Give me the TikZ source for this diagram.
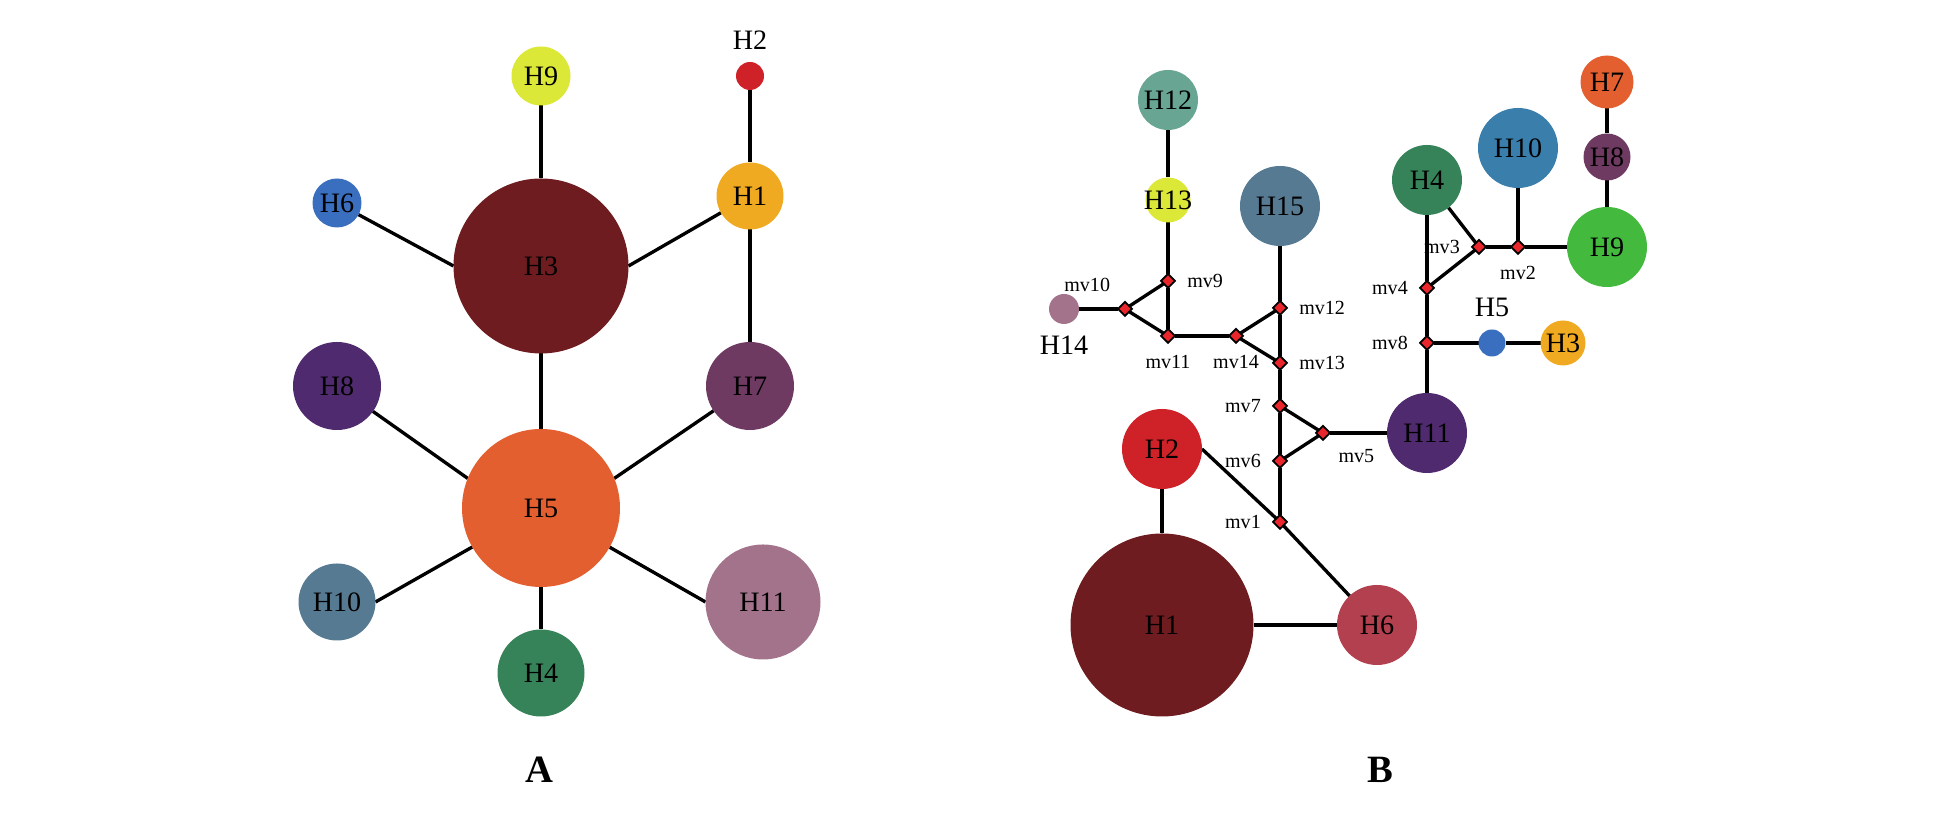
\documentclass[tikz,border=0pt]{standalone}
\usepackage{xcolor}
\usepackage{fontspec}
\setmainfont{Liberation Serif}
\usepackage{tikz}
\usepackage{tikz-network}
\usetikzlibrary{positioning,shapes.geometric}

\definecolor{hapyellow}{HTML}{DCE837}
\definecolor{hapred}{HTML}{CF2228}
\definecolor{mvred}{HTML}{E8262C}
\definecolor{hapblue}{HTML}{3A6FBF}
\definecolor{hapmaroon}{HTML}{6E1C20}
\definecolor{hapgold}{HTML}{F0AA22}
\definecolor{hapviolet}{HTML}{4F2A6E}
\definecolor{happlum}{HTML}{6E3A62}
\definecolor{haporange}{HTML}{E35F30}
\definecolor{hapslate}{HTML}{577A93}
\definecolor{hapgreen}{HTML}{368359}
\definecolor{hapmauve}{HTML}{A3738C}
\definecolor{hapteal}{HTML}{68A593}
\definecolor{hapsky}{HTML}{3A7EAB}
\definecolor{haplime}{HTML}{43B93E}
\definecolor{haprose}{HTML}{B2404F}

\newcommand{\mvsize}{\fontsize{5.7}{6.5}\selectfont}
\tikzset{mvbox/.style={draw=black, draw opacity=1, line width=0.5pt}}

\begin{document}
\begin{tikzpicture}
\useasboundingbox (0,0) rectangle (19.47,8.26);
\SetVertexStyle[LineOpacity=0, LineWidth=0pt, TextFont=\fontsize{8}{9.6}\selectfont, InnerSep=0pt]
\SetEdgeStyle[LineWidth=0.95pt, Color=black]

% network A
\Vertex[x=5.41, y=7.50, size=0.59, color=hapyellow, label=H9]{A9}
\Vertex[x=7.50, y=7.50, size=0.28, color=hapred, label=H2, position=above, distance=-0.06]{A2}
\Vertex[x=3.37, y=6.23, size=0.49, color=hapblue, label=H6]{A6}
\Vertex[x=5.41, y=5.60, size=1.75, color=hapmaroon, label=H3]{A3}
\Vertex[x=7.50, y=6.30, size=0.67, color=hapgold, label=H1]{A1}
\Vertex[x=3.37, y=4.40, size=0.88, color=hapviolet, label=H8]{A8}
\Vertex[x=7.50, y=4.40, size=0.88, color=happlum, label=H7]{A7}
\Vertex[x=5.41, y=3.18, size=1.58, color=haporange, label=H5]{A5}
\Vertex[x=3.37, y=2.24, size=0.77, color=hapslate, label=H10]{A10}
\Vertex[x=5.41, y=1.53, size=0.87, color=hapgreen, label=H4]{A4}
\Vertex[x=7.63, y=2.24, size=1.15, color=hapmauve, label=H11]{A11}

\Edge(A9)(A3)
\Edge(A6)(A3.west)
\Edge(A1)(A3.east)
\Edge(A2)(A1)
\Edge(A1)(A7)
\Edge(A3)(A5)
\Edge(A8)(A5.158)
\Edge(A7)(A5.22)
\Edge(A10.east)(A5)
\Edge(A4)(A5)
\Edge(A11.west)(A5)

% network B
\Vertex[x=11.68, y=7.26, size=0.60, color=hapteal, label=H12]{B12}
\Vertex[x=11.68, y=6.26, size=0.45, color=hapyellow, label=H13]{B13}
\Vertex[x=12.80, y=6.20, size=0.80, color=hapslate, label=H15]{B15}
\Vertex[x=10.64, y=5.17, size=0.30, color=hapmauve, label=H14, position=below, distance=-0.03]{B14}
\Vertex[x=14.27, y=6.46, size=0.70, color=hapgreen, label=H4]{B4}
\Vertex[x=15.18, y=6.78, size=0.80, color=hapsky, label=H10]{B10}
\Vertex[x=16.07, y=7.44, size=0.53, color=haporange, label=H7]{B7}
\Vertex[x=16.07, y=6.69, size=0.47, color=happlum, label=H8]{B8}
\Vertex[x=16.07, y=5.79, size=0.80, color=haplime, label=H9]{B9}
\Vertex[x=14.92, y=4.83, size=0.27, color=hapblue, label=H5, position=above]{B5}
\Vertex[x=15.63, y=4.83, size=0.45, color=hapgold, label=H3]{B3}
\Vertex[x=14.27, y=3.93, size=0.80, color=hapviolet, label=H11]{B11}
\Vertex[x=11.62, y=3.77, size=0.80, color=hapred, label=H2]{B2}
\Vertex[x=11.62, y=2.01, size=1.83, color=hapmaroon, label=H1]{B1}
\Vertex[x=13.77, y=2.01, size=0.80, color=haprose, label=H6]{B6}

% median vectors
\Vertex[x=12.80, y=3.04, size=0.14, shape=diamond, color=mvred, style=mvbox, label=mv1, position=left, distance=-0.05, fontsize=\mvsize]{mv1}
\Vertex[x=15.18, y=5.79, size=0.14, shape=diamond, color=mvred, style=mvbox, label=mv2, position=below, distance=-0.04, fontsize=\mvsize]{mv2}
\Vertex[x=14.79, y=5.79, size=0.14, shape=diamond, color=mvred, style=mvbox, label=mv3, position=left, distance=-0.05, fontsize=\mvsize]{mv3}
\Vertex[x=14.27, y=5.38, size=0.14, shape=diamond, color=mvred, style=mvbox, label=mv4, position=left, distance=-0.05, fontsize=\mvsize]{mv4}
\Vertex[x=13.23, y=3.93, size=0.14, shape=diamond, color=mvred, style=mvbox, label=mv5, position=-50, distance=-0.05, fontsize=\mvsize]{mv5}
\Vertex[x=12.80, y=3.65, size=0.14, shape=diamond, color=mvred, style=mvbox, label=mv6, position=left, distance=-0.05, fontsize=\mvsize]{mv6}
\Vertex[x=12.80, y=4.20, size=0.14, shape=diamond, color=mvred, style=mvbox, label=mv7, position=left, distance=-0.05, fontsize=\mvsize]{mv7}
\Vertex[x=14.27, y=4.83, size=0.14, shape=diamond, color=mvred, style=mvbox, label=mv8, position=left, distance=-0.05, fontsize=\mvsize]{mv8}
\Vertex[x=11.68, y=5.45, size=0.14, shape=diamond, color=mvred, style=mvbox, label=mv9, position=right, distance=-0.03, fontsize=\mvsize]{mv9}
\Vertex[x=11.25, y=5.17, size=0.14, shape=diamond, color=mvred, style=mvbox, label=mv10, position=120, fontsize=\mvsize]{mv10}
\Vertex[x=11.68, y=4.90, size=0.14, shape=diamond, color=mvred, style=mvbox, label=mv11, position=below, distance=-0.02, fontsize=\mvsize]{mv11}
\Vertex[x=12.80, y=5.18, size=0.14, shape=diamond, color=mvred, style=mvbox, label=mv12, position=right, distance=-0.03, fontsize=\mvsize]{mv12}
\Vertex[x=12.80, y=4.63, size=0.14, shape=diamond, color=mvred, style=mvbox, label=mv13, position=right, distance=-0.03, fontsize=\mvsize]{mv13}
\Vertex[x=12.36, y=4.90, size=0.14, shape=diamond, color=mvred, style=mvbox, label=mv14, position=below, distance=-0.02, fontsize=\mvsize]{mv14}

\Edge(B12)(B13)
\Edge(B13)(mv9)
\Edge(mv9)(mv10)
\Edge(mv9)(mv11)
\Edge(mv10)(mv11)
\Edge(mv10)(B14)
\Edge(mv11)(mv14)
\Edge(mv14)(mv12)
\Edge(mv14)(mv13)
\Edge(mv12)(mv13)
\Edge(mv12)(B15)
\Edge(mv13)(mv7)
\Edge(mv7)(mv6)
\Edge(mv7)(mv5)
\Edge(mv6)(mv5)
\Edge(mv6)(mv1)
\Edge(mv5)(B11)
\Edge(B2.east)(mv1)
\Edge(mv1)(B6)
\Edge(B2)(B1)
\Edge(B1)(B6)
\Edge(B11)(mv8)
\Edge(mv8)(B5)
\Edge(B5)(B3)
\Edge(mv8)(mv4)
\Edge(mv4)(B4)
\Edge(mv4)(mv3)
\Edge(mv3)(B4)
\Edge(mv3)(mv2)
\Edge(mv2)(B10)
\Edge(mv2)(B9)
\Edge(B9)(B8)
\Edge(B8)(B7)

\node[font=\fontsize{11}{13}\selectfont\bfseries] (labA) at (5.39,0.56) {A};
\node[font=\fontsize{11}{13}\selectfont\bfseries] (labB) at (13.80,0.56) {B};
\end{tikzpicture}
\end{document}
